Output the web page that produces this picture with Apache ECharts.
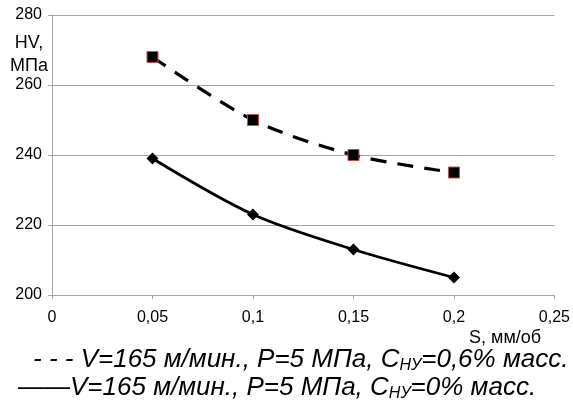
<!DOCTYPE html>
<html>
<head>
<meta charset="utf-8">
<script src="https://cdn.jsdelivr.net/npm/echarts@6/dist/echarts.min.js"></script>
<style>
	html, body { margin: 0; padding: 0; background: #fff; }
	#chart { width: 573px; height: 404px; }
</style>
</head>
<body>
<div id="chart"></div>
<script>
var feedRates = [0.05, 0.1, 0.15, 0.2];
var hardnessWithAdditive = [268, 250, 240, 235];
var hardnessNoAdditive = [239, 223, 213, 205];
var xTicks = [0, 0.05, 0.1, 0.15, 0.2, 0.25];
var yTicks = [200, 220, 240, 260, 280];

function pairs(xs, ys) {
	var out = [];
	for (var i = 0; i < xs.length; i++) out.push([xs[i], ys[i]]);
	return out;
}

var chartColors = {
	grid: '#a6a6a6',
	text: '#000000',
	marker: '#000000',
	markerBorder: '#c0504d'
};
var fontFamily = '"Liberation Sans", Arial, sans-serif';

var legendStyle = {
	fontSize: 26, fontStyle: 'italic', fontWeight: 'normal', color: chartColors.text, fontFamily: fontFamily,
	rich: { sub: { fontSize: 16, fontStyle: 'italic', fontFamily: fontFamily, color: chartColors.text, padding: [12, 0, 0, 0] } }
};

var echart = echarts.init(document.getElementById('chart'));

echart.setOption({
	animation: false,
	grid: { left: 52, right: 16, top: 15, bottom: 109 },
	xAxis: {
		type: 'value',
		min: xTicks[0],
		max: xTicks[xTicks.length - 1],
		interval: 0.05,
		axisLine: { show: true, lineStyle: { color: chartColors.grid, width: 1 } },
		axisTick: { show: true, length: 4, lineStyle: { color: chartColors.grid } },
		splitLine: { show: false },
		axisLabel: {
			color: chartColors.text, fontSize: 16, fontFamily: fontFamily, margin: 15,
			formatter: function (v) { return String(Math.round(v * 100) / 100).replace('.', ','); }
		}
	},
	yAxis: {
		type: 'value',
		min: yTicks[0],
		max: yTicks[yTicks.length - 1],
		interval: 20,
		axisLine: { show: true, lineStyle: { color: chartColors.grid, width: 1 } },
		axisTick: { show: true, length: 4, lineStyle: { color: chartColors.grid } },
		splitLine: { show: true, lineStyle: { color: chartColors.grid, width: 1 } },
		axisLabel: { color: chartColors.text, fontSize: 16, fontFamily: fontFamily, margin: 10 }
	},
	title: [
		{
			text: 'HV,\nМПа', left: 24, top: 27, textAlign: 'center',
			textStyle: { fontSize: 18, fontWeight: 'normal', color: chartColors.text, fontFamily: fontFamily, lineHeight: 23, align: 'center' }
		},
		{
			text: 'S, мм/об', left: 464, top: 324,
			textStyle: { fontSize: 18, fontWeight: 'normal', color: chartColors.text, fontFamily: fontFamily }
		},
		{ text: '- - - V=165 м/мин., P=5 МПа, C{sub|НУ}=0,6% масс.', left: 28, top: 341, textStyle: legendStyle },
		{ text: '——V=165 м/мин., P=5 МПа, C{sub|НУ}=0% масс.', left: 13, top: 369, textStyle: legendStyle }
	],
	series: [
		{
			type: 'line',
			data: pairs(feedRates, hardnessWithAdditive),
			smooth: 0.3,
			symbol: 'rect',
			symbolSize: 11,
			itemStyle: { color: chartColors.marker, borderColor: chartColors.markerBorder, borderWidth: 1 },
			lineStyle: { color: chartColors.marker, width: 3.2, type: [16, 11] }
		},
		{
			type: 'line',
			data: pairs(feedRates, hardnessNoAdditive),
			smooth: 0.3,
			symbol: 'diamond',
			symbolSize: 12,
			itemStyle: { color: chartColors.marker },
			lineStyle: { color: chartColors.marker, width: 2.8 }
		}
	]
});
</script>
</body>
</html>
